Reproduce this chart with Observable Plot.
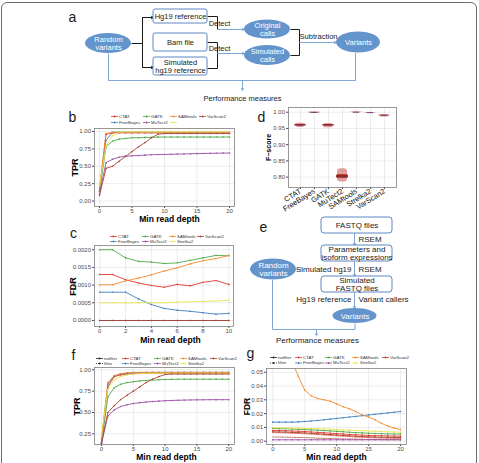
<!DOCTYPE html>
<html>
<head>
<meta charset="utf-8">
<title>Variant caller benchmarking</title>
<script src="https://cdn.jsdelivr.net/npm/d3@7"></script>
<script src="https://cdn.jsdelivr.net/npm/@observablehq/plot@0.6"></script>
<style>
  html, body { margin: 0; padding: 0; background: #ffffff; overflow: hidden; }
  #fig { position: relative; width: 479px; height: 463px; overflow: hidden; background: #fff; }
  #fig .outline { position: absolute; left: 1px; top: 2px; width: 474px; height: 480px; border: 1px solid #6e6e6e; border-radius: 6px; }
  #fig svg { position: absolute; }
</style>
</head>
<body>
<div id="fig"><div class="outline"></div></div>
<script>
const W = 479, H = 463;
const FONT = '"Liberation Sans", Arial, Helvetica, sans-serif';

// ---- data ---------------------------------------------------------------
const tools = ["CTAT", "FreeBayes", "GATK", "MuTect2", "SAMtools", "Strelka2", "VarScan2"];
const toolColors = ["#e23a2e", "#3f7fc0", "#4ea84a", "#9b4ea6", "#f58a2c", "#e9e457", "#a84632"];

const depthTo20 = [0, 1, 2, 3, 4, 5, 6, 7, 8, 9, 10, 11, 12, 13, 14, 15, 16, 17, 18, 19, 20];
const depthTo10 = [0, 1, 2, 3, 4, 5, 6, 7, 8, 9, 10];

// b: TPR by minimum read depth
const bCTAT      = [0.14, 0.96, 0.98, 0.98, 0.98, 0.98, 0.98, 0.98, 0.98, 0.98, 0.98, 0.98, 0.98, 0.98, 0.98, 0.98, 0.98, 0.98, 0.98, 0.98, 0.98];
const bFreeBayes = [0.15, 0.87, 0.99, 0.99, 0.99, 0.99, 0.99, 0.99, 0.99, 0.99, 0.99, 0.99, 0.99, 0.99, 0.99, 0.99, 0.99, 0.99, 0.99, 0.99, 0.99];
const bGATK      = [0.14, 0.78, 0.86, 0.89, 0.90, 0.91, 0.91, 0.915, 0.915, 0.92, 0.92, 0.92, 0.92, 0.92, 0.92, 0.92, 0.92, 0.92, 0.92, 0.92, 0.92];
const bMuTect2   = [0.10, 0.55, 0.60, 0.63, 0.645, 0.65, 0.655, 0.66, 0.665, 0.668, 0.67, 0.672, 0.675, 0.677, 0.68, 0.682, 0.684, 0.686, 0.688, 0.689, 0.69];
const bSAMtools  = [0.20, 0.97, 0.985, 0.99, 0.99, 0.99, 0.99, 0.99, 0.99, 0.99, 0.99, 0.99, 0.99, 0.99, 0.99, 0.99, 0.99, 0.99, 0.99, 0.99, 0.99];
const bStrelka2  = [0.22, 0.79, 0.94, 0.99, 0.995, 0.995, 0.995, 0.995, 0.995, 0.995, 0.995, 0.995, 0.995, 0.995, 0.995, 0.995, 0.995, 0.995, 0.995, 0.995, 0.995];
const bVarScan2  = [0.08, 0.47, 0.50, 0.57, 0.64, 0.71, 0.78, 0.84, 0.91, 0.96, 0.97, 0.97, 0.97, 0.97, 0.97, 0.97, 0.97, 0.97, 0.97, 0.97, 0.97];

// c: FDR by minimum read depth
const cCTAT      = [0.0013, 0.0013, 0.00115, 0.00106, 0.00099, 0.00094, 0.00102, 0.00098, 0.00108, 0.00113, 0.00102];
const cFreeBayes = [0.0008, 0.0008, 0.0008, 0.00061, 0.00045, 0.00034, 0.00029, 0.00026, 0.00022, 0.00018, 0.0002];
const cGATK      = [0.002, 0.002, 0.00177, 0.00167, 0.00165, 0.00161, 0.00163, 0.0017, 0.00177, 0.00184, 0.00183];
const cMuTect2   = [0, 0, 0, 0, 0, 0, 0, 0, 0, 0, 0];
const cSAMtools  = [0.00101, 0.00101, 0.00112, 0.0012, 0.00129, 0.0014, 0.00149, 0.0016, 0.00169, 0.00175, 0.00184];
const cStrelka2  = [0.0005, 0.0005, 0.0005, 0.0005, 0.0005, 0.0005, 0.00052, 0.00053, 0.00054, 0.00055, 0.00057];
const cVarScan2  = [0, 0, 0, 0, 0, 0, 0, 0, 0, 0, 0];

// d: F-score of repeated runs per caller
const dCTAT      = [0.953, 0.956, 0.957, 0.958, 0.959, 0.96, 0.96, 0.961, 0.962, 0.963, 0.964, 0.966];
const dFreeBayes = [0.996, 0.997, 0.998, 0.999, 0.999, 1.0, 1.0, 1.0, 1.0, 0.999, 0.998, 1.0];
const dGATK      = [0.952, 0.955, 0.957, 0.958, 0.959, 0.96, 0.96, 0.961, 0.962, 0.962, 0.963, 0.965];
const dMuTect2   = [0.785, 0.79, 0.793, 0.795, 0.797, 0.799, 0.8, 0.8, 0.801, 0.802, 0.804, 0.806, 0.81, 0.815, 0.82, 0.826];
const dSAMtools  = [0.997, 0.998, 0.999, 1.0, 1.0, 1.0, 1.0, 0.999, 1.0, 0.999, 1.0, 1.0];
const dStrelka2  = [0.996, 0.997, 0.998, 0.999, 0.999, 0.999, 0.998, 0.999, 0.998, 0.999, 0.998, 0.999];
const dVarScan2  = [0.985, 0.987, 0.988, 0.989, 0.99, 0.99, 0.991, 0.991, 0.992, 0.989, 0.993, 0.991];

// f: TPR by minimum read depth, second data set
const fCTAT      = [0.15, 0.80, 0.92, 0.94, 0.95, 0.955, 0.96, 0.96, 0.96, 0.96, 0.96, 0.96, 0.96, 0.96, 0.96, 0.96, 0.96, 0.96, 0.96, 0.96, 0.96];
const fFreeBayes = [0.15, 0.83, 0.93, 0.95, 0.96, 0.965, 0.965, 0.97, 0.97, 0.97, 0.97, 0.97, 0.97, 0.97, 0.97, 0.97, 0.97, 0.97, 0.97, 0.97, 0.97];
const fGATK      = [0.14, 0.68, 0.79, 0.83, 0.85, 0.86, 0.87, 0.875, 0.88, 0.883, 0.886, 0.888, 0.89, 0.89, 0.89, 0.89, 0.89, 0.89, 0.89, 0.89, 0.89];
const fMuTect2   = [0.14, 0.46, 0.53, 0.57, 0.59, 0.605, 0.615, 0.622, 0.628, 0.633, 0.638, 0.641, 0.643, 0.645, 0.647, 0.648, 0.649, 0.65, 0.65, 0.65, 0.65];
const fSAMtools  = [0.20, 0.85, 0.93, 0.955, 0.965, 0.97, 0.97, 0.97, 0.97, 0.97, 0.97, 0.97, 0.97, 0.97, 0.97, 0.97, 0.97, 0.97, 0.97, 0.97, 0.97];
const fStrelka2  = [0.22, 0.77, 0.88, 0.92, 0.94, 0.95, 0.955, 0.958, 0.96, 0.96, 0.96, 0.96, 0.96, 0.96, 0.96, 0.96, 0.96, 0.96, 0.96, 0.96, 0.96];
const fVarScan2  = [0.14, 0.50, 0.58, 0.65, 0.70, 0.75, 0.80, 0.85, 0.89, 0.92, 0.945, 0.95, 0.95, 0.95, 0.95, 0.95, 0.95, 0.95, 0.95, 0.95, 0.95];

// g: FDR by minimum read depth, second data set (nofilter)
const gCTAT      = [0.0078, 0.0077, 0.0076, 0.0074, 0.0072, 0.007, 0.0067, 0.0064, 0.0061, 0.0058, 0.0055, 0.0052, 0.0049, 0.0046, 0.0044, 0.0042, 0.004, 0.0039, 0.0038, 0.0037, 0.0036];
const gFreeBayes = [0.0138, 0.0138, 0.0138, 0.0138, 0.014, 0.0143, 0.0146, 0.015, 0.0155, 0.016, 0.0165, 0.017, 0.0175, 0.018, 0.0185, 0.019, 0.0195, 0.02, 0.0205, 0.021, 0.0215];
const gGATK      = [0.0092, 0.0091, 0.009, 0.0088, 0.0086, 0.0084, 0.0082, 0.008, 0.0077, 0.0074, 0.0071, 0.0068, 0.0065, 0.0062, 0.006, 0.0058, 0.0056, 0.0054, 0.0053, 0.0052, 0.0051];
const gMuTect2   = [0.001, 0.001, 0.001, 0.001, 0.001, 0.001, 0.001, 0.001, 0.001, 0.001, 0.001, 0.001, 0.001, 0.001, 0.001, 0.001, 0.001, 0.001, 0.001, 0.001, 0.001];
const gSAMtools  = [0.12, 0.09, 0.07, 0.058, 0.047, 0.037, 0.033, 0.031, 0.030, 0.029, 0.027, 0.025, 0.0235, 0.0215, 0.019, 0.0175, 0.0155, 0.013, 0.011, 0.0095, 0.0085];
const gStrelka2  = [0.0098, 0.0097, 0.0096, 0.0095, 0.0094, 0.0093, 0.0092, 0.009, 0.0088, 0.0086, 0.0084, 0.0082, 0.008, 0.0078, 0.0076, 0.0074, 0.0072, 0.007, 0.0068, 0.0066, 0.0065];
const gVarScan2  = [0.0068, 0.0067, 0.0066, 0.0064, 0.0062, 0.006, 0.0057, 0.0054, 0.0051, 0.0048, 0.0045, 0.0042, 0.0039, 0.0036, 0.0034, 0.0032, 0.003, 0.0029, 0.0028, 0.0027, 0.0026];
// g: filtered calls
const gCTATFilter     = [0.0062, 0.0061, 0.006, 0.0058, 0.0056, 0.0054, 0.0051, 0.0048, 0.0045, 0.0042, 0.0039, 0.0036, 0.0033, 0.003, 0.0028, 0.0026, 0.0024, 0.0023, 0.0022, 0.0021, 0.002];
const gVarScan2Filter = [0.003, 0.003, 0.0029, 0.0028, 0.0027, 0.0026, 0.0024, 0.0022, 0.002, 0.0019, 0.0018, 0.0017, 0.0016, 0.0015, 0.0014, 0.0013, 0.0012, 0.0012, 0.0011, 0.0011, 0.001];

// axis ticks
const tprTicksB = [0, 0.25, 0.5, 0.75, 1];
const tprTicksF = [0.25, 0.5, 0.75, 1];
const fdrTicksC = [0, 0.0005, 0.001, 0.0015, 0.002];
const fdrTicksG = [0, 0.01, 0.02, 0.03, 0.04, 0.05];
const fTicksD = [0.8, 0.85, 0.9, 0.95, 1];
const depthTicks20 = [0, 5, 10, 15, 20];
const depthTicks10 = [0, 2, 4, 6, 8, 10];

// ---- helpers ------------------------------------------------------------
const fig = document.getElementById("fig");
function place(el, left, top) {
  el.style.left = left + "px";
  el.style.top = top + "px";
  fig.appendChild(el);
}
function longRows(depths, series, names = tools) {
  return series.flatMap((vals, i) => vals.map((v, j) => ({tool: names[i], depth: depths[j], value: v})));
}
const axisStyle = {background: "transparent", fontFamily: FONT, fontSize: "6px", color: "#4d4d4d", overflow: "visible"};

function lineChart({width, height, margins, xDomain, xTicks, yDomain, yTicks, yFormat, solid, dotted = []}) {
  const [t, r, b, l] = margins;
  return Plot.plot({
    width, height, marginTop: t, marginRight: r, marginBottom: b, marginLeft: l,
    style: axisStyle,
    x: {domain: xDomain, ticks: xTicks, tickSize: 2, tickPadding: 0.5, label: null, grid: true},
    y: {domain: yDomain, ticks: yTicks, tickSize: 2, tickPadding: 1.5, tickFormat: yFormat, label: null, grid: true},
    color: {domain: tools, range: toolColors},
    marks: [
      Plot.line(dotted, {x: "depth", y: "value", z: "tool", stroke: "tool", strokeWidth: 0.8, strokeDasharray: "1.2,1.2", clip: true}),
      Plot.line(solid, {x: "depth", y: "value", z: "tool", stroke: "tool", strokeWidth: 0.9, clip: true}),
      Plot.dot(solid, {x: "depth", y: "value", fill: "tool", r: 0.8, clip: true}),
      Plot.frame({stroke: "#7f7f7f", strokeWidth: 0.8})
    ]
  });
}

// ---- annotation layer: flowcharts, panel letters, axis titles, legends ----
const blue = "#80a6d6", ovalFill = "#6494cc", boxStroke = "#5f88c4", ink = "#1a1a1a";

const flowABoxes = [
  {text: "Hg19 reference", x1: 153, x2: 207, y1: 9, y2: 23},
  {text: "Bam file", x1: 153, x2: 207, y1: 33, y2: 51},
  {text: "Simulated\nhg19 reference", x1: 153, x2: 207, y1: 57, y2: 75}
];
const flowAOvals = [
  {text: "Random\nvariants", cx: 108, cy: 43, rx: 23, ry: 10},
  {text: "Original\ncalls", cx: 267, cy: 29, rx: 23, ry: 9.5},
  {text: "Simulated\ncalls", cx: 267, cy: 55, rx: 23, ry: 10},
  {text: "Variants", cx: 358, cy: 42, rx: 22, ry: 10.5}
];
const flowABlack = [[131, 43, 142, 43], [142, 17, 142, 67], [207, 16, 217, 16], [217, 16, 217, 29],
  [207, 42, 217, 42], [217, 42, 217, 68], [207, 68, 217, 68], [290, 29, 299, 29], [299, 29, 299, 55], [290, 55, 299, 55]];
const flowABlackArrows = [[142, 17, 153, 17], [142, 67, 153, 67]];
const flowABlueArrows = [[217, 29, 244, 29], [217, 53, 244, 53], [299, 42, 336, 42], [242, 80, 242, 90]];
const flowABlue = [[108, 53, 108, 80], [108, 80, 355, 80], [355, 80, 355, 52.5]];
const flowALabels = [
  {text: "Detect", x: 219, y: 23.5, anchor: "start"},
  {text: "Detect", x: 219, y: 48, anchor: "start"},
  {text: "Subtraction", x: 318, y: 36.5, anchor: "middle"},
  {text: "Performance measures", x: 242, y: 98, anchor: "middle"}
];

const flowEBoxes = [
  {text: "FASTQ files", x1: 321, x2: 392, y1: 217, y2: 233},
  {text: "Parameters and\nisoform expressions", x1: 321, x2: 392, y1: 245, y2: 261},
  {text: "Simulated\nFASTQ files", x1: 321, x2: 392, y1: 276, y2: 292}
];
const flowEOvals = [
  {text: "Random\nvariants", cx: 273, cy: 269, rx: 23, ry: 10.5},
  {text: "Variants", cx: 354.5, cy: 315.5, rx: 22, ry: 7.5}
];
const flowEBlueArrows = [[354, 233, 354, 245], [354, 261, 354, 276], [354, 292, 354, 308], [316, 329, 316, 335]];
const flowEBlue = [[296, 269, 300, 269], [272, 279.5, 272, 329], [272, 329, 354.5, 329], [354.5, 329, 354.5, 323]];
const flowELabels = [
  {text: "RSEM", x: 358, y: 239, anchor: "start"},
  {text: "Simulated hg19", x: 351, y: 269, anchor: "end"},
  {text: "RSEM", x: 358, y: 269, anchor: "start"},
  {text: "Hg19 reference", x: 351, y: 299, anchor: "end"},
  {text: "Variant callers", x: 358, y: 299, anchor: "start"},
  {text: "Performance measures", x: 317, y: 339.5, anchor: "middle"}
];

const panelLetters = [
  {text: "a", x: 72, y: 17}, {text: "b", x: 72, y: 117}, {text: "c", x: 73, y: 233},
  {text: "d", x: 261, y: 117}, {text: "e", x: 263, y: 227}, {text: "f", x: 73, y: 355}, {text: "g", x: 250, y: 353}
];
const axisTitles = [
  {text: "TPR", x: 75, y: 167, rotate: -90, size: 9},
  {text: "Min read depth", x: 169, y: 219, rotate: 0, size: 8.5},
  {text: "FDR", x: 73, y: 286, rotate: -90, size: 9},
  {text: "Min read depth", x: 170, y: 339.5, rotate: 0, size: 8.5},
  {text: "F\u2212score", x: 268, y: 147, rotate: -90, size: 7},
  {text: "TPR", x: 77, y: 406, rotate: -90, size: 9},
  {text: "Min read depth", x: 166, y: 456.5, rotate: 0, size: 8.5},
  {text: "FDR", x: 247, y: 406, rotate: -90, size: 8.5},
  {text: "Min read depth", x: 336, y: 456.5, rotate: 0, size: 8.5}
];

// legends: tools laid out column by column in two rows
function toolKeys(colX, rowY, hideLabel = []) {
  return tools.map((t, i) => ({
    x: colX[Math.floor(i / 2)], y: rowY[i % 2], color: toolColors[i],
    label: hideLabel.includes(t) ? "" : t
  }));
}
function filterKeys(x, rowY) {
  return [{x, y: rowY[0], label: "nofilter", dashed: false}, {x, y: rowY[1], label: "filter", dashed: true}];
}
const keys = [
  ...toolKeys([114, 146, 173, 202], [116, 122], ["Strelka2"]),
  ...toolKeys([113, 145, 172, 200], [236, 241]),
  ...toolKeys([125, 157, 183, 213], [358, 363]),
  ...toolKeys([298, 328, 355, 385], [357, 362.5])
];
const lineKeys = [...filterKeys(99, [358, 363]), ...filterKeys(273, [357, 362.5])];

const seg = () => ({x1: (d) => d[0], y1: (d) => d[1], x2: (d) => d[2], y2: (d) => d[3]});
const ovalRect = {x1: (d) => d.cx - d.rx, x2: (d) => d.cx + d.rx, y1: (d) => d.cy - d.ry, y2: (d) => d.cy + d.ry, rx: 100, ry: 100};

const overlay = Plot.plot({
  width: W, height: H, margin: 0,
  style: {background: "transparent", fontFamily: FONT, overflow: "visible"},
  x: {domain: [0, W], range: [0, W], axis: null},
  y: {domain: [0, H], range: [0, H], axis: null},
  marks: [
    // flowchart a
    Plot.link(flowABlack, {...seg(), stroke: ink, strokeWidth: 1}),
    Plot.arrow(flowABlackArrows, {...seg(), stroke: ink, strokeWidth: 1, headLength: 3.5}),
    Plot.link(flowABlue, {...seg(), stroke: blue, strokeWidth: 1}),
    Plot.arrow(flowABlueArrows, {...seg(), stroke: blue, strokeWidth: 1, headLength: 3.5}),
    Plot.rect(flowABoxes, {x1: "x1", x2: "x2", y1: "y1", y2: "y2", fill: "white", stroke: boxStroke, strokeWidth: 1, rx: 2}),
    Plot.text(flowABoxes, {x: (d) => (d.x1 + d.x2) / 2, y: (d) => (d.y1 + d.y2) / 2, text: "text", fontSize: 7.5, fill: ink, lineHeight: 1.1}),
    Plot.rect(flowAOvals, {...ovalRect, fill: ovalFill}),
    Plot.text(flowAOvals, {x: "cx", y: "cy", text: "text", fontSize: 7.5, fill: "white", lineHeight: 1.05}),
    Plot.text(flowALabels, {x: "x", y: "y", text: "text", textAnchor: (d) => d.anchor, fontSize: 7.5, fill: ink}),
    // flowchart e
    Plot.link(flowEBlue, {...seg(), stroke: blue, strokeWidth: 1}),
    Plot.arrow(flowEBlueArrows, {...seg(), stroke: blue, strokeWidth: 1, headLength: 3.5}),
    Plot.rect(flowEBoxes, {x1: "x1", x2: "x2", y1: "y1", y2: "y2", fill: "white", stroke: boxStroke, strokeWidth: 1, rx: 3}),
    Plot.text(flowEBoxes, {x: (d) => (d.x1 + d.x2) / 2, y: (d) => (d.y1 + d.y2) / 2, text: "text", fontSize: 8, fill: ink, lineHeight: 1.0}),
    Plot.rect(flowEOvals, {...ovalRect, fill: ovalFill}),
    Plot.text(flowEOvals, {x: "cx", y: "cy", text: "text", fontSize: 8, fill: "white", lineHeight: 1.05}),
    Plot.text(flowELabels.filter((d) => d.anchor === "start"), {x: "x", y: "y", text: "text", textAnchor: "start", fontSize: 8, fill: ink}),
    Plot.text(flowELabels.filter((d) => d.anchor === "end"), {x: "x", y: "y", text: "text", textAnchor: "end", fontSize: 8, fill: ink}),
    Plot.text(flowELabels.filter((d) => d.anchor === "middle"), {x: "x", y: "y", text: "text", fontSize: 8, fill: ink}),
    // panel letters and axis titles
    Plot.text(panelLetters, {x: "x", y: "y", text: "text", fontSize: 14, fill: ink}),
    Plot.text(axisTitles.filter((d) => d.rotate === 0), {x: "x", y: "y", text: "text", fontSize: (d) => d.size, fontWeight: "bold", fill: "#000"}),
    Plot.text(axisTitles.filter((d) => d.rotate !== 0), {x: "x", y: "y", text: "text", fontSize: (d) => d.size, fontWeight: "bold", fill: "#000", rotate: -90}),
    // legends
    Plot.link(keys, {x1: (d) => d.x - 3.5, x2: (d) => d.x + 3.5, y1: "y", y2: "y", stroke: "color", strokeWidth: 0.8}),
    Plot.dot(keys, {x: "x", y: "y", fill: "color", r: 0.9}),
    Plot.text(keys, {x: (d) => d.x + 4.5, y: "y", text: "label", textAnchor: "start", fontSize: 4.4, fill: "#333"}),
    Plot.link(lineKeys.filter((d) => !d.dashed), {x1: (d) => d.x - 3.5, x2: (d) => d.x + 3.5, y1: "y", y2: "y", stroke: "#222", strokeWidth: 0.8}),
    Plot.link(lineKeys.filter((d) => d.dashed), {x1: (d) => d.x - 3.5, x2: (d) => d.x + 3.5, y1: "y", y2: "y", stroke: "#222", strokeWidth: 0.8, strokeDasharray: "1,1"}),
    Plot.dot(lineKeys, {x: "x", y: "y", fill: "#222", r: 0.9}),
    Plot.text(lineKeys, {x: (d) => d.x + 4.5, y: "y", text: "label", textAnchor: "start", fontSize: 4.4, fill: "#333"})
  ]
});
place(overlay, 0, 0);

// ---- b: TPR ----------------------------------------------------------------
place(lineChart({
  width: 180, height: 100, margins: [4, 6, 18, 34],
  xDomain: [-0.77, 20.77], xTicks: depthTicks20,
  yDomain: [-0.079, 1.043], yTicks: tprTicksB, yFormat: ".2f",
  solid: longRows(depthTo20, [bCTAT, bFreeBayes, bGATK, bMuTect2, bSAMtools, bStrelka2, bVarScan2])
}), 60, 124);

// ---- c: FDR ----------------------------------------------------------------
place(lineChart({
  width: 200, height: 102, margins: [4, 7, 17, 54],
  xDomain: [-0.41, 10.36], xTicks: depthTicks10,
  yDomain: [-0.00017, 0.00212], yTicks: fdrTicksC, yFormat: ".4f",
  solid: longRows(depthTo10, [cCTAT, cFreeBayes, cGATK, cMuTect2, cSAMtools, cStrelka2, cVarScan2])
}), 40, 241);

// ---- f: TPR, second data set --------------------------------------------
place(lineChart({
  width: 200, height: 99, margins: [3, 6, 19, 54],
  xDomain: [-1.1, 20.9], xTicks: depthTicks20,
  yDomain: [0.125, 1.027], yTicks: tprTicksF, yFormat: ".2f",
  solid: longRows(depthTo20, [fCTAT, fFreeBayes, fGATK, fMuTect2, fSAMtools, fStrelka2, fVarScan2])
}), 40, 364);

// ---- g: FDR, second data set --------------------------------------------
place(lineChart({
  width: 185, height: 99, margins: [4, 9, 19, 36],
  xDomain: [-0.99, 20.94], xTicks: depthTicks20,
  yDomain: [-0.0024, 0.0527], yTicks: fdrTicksG, yFormat: ".2f",
  solid: longRows(depthTo20, [gCTAT, gFreeBayes, gGATK, gMuTect2, gSAMtools, gStrelka2, gVarScan2]),
  dotted: longRows(depthTo20, [gCTATFilter, gVarScan2Filter], ["CTAT", "VarScan2"])
}), 230, 364);

// ---- d: F-score per caller ---------------------------------------------
const fscoreRows = [dCTAT, dFreeBayes, dGATK, dMuTect2, dSAMtools, dStrelka2, dVarScan2]
  .flatMap((vals, i) => vals.map((v) => ({tool: tools[i], score: v})));
const dChart = Plot.plot({
  width: 165, height: 110, marginTop: 4, marginRight: 9, marginBottom: 26, marginLeft: 48,
  style: axisStyle,
  x: {type: "band", domain: tools, range: [48.4, 155.6], padding: 0.15, tickRotate: -32, tickSize: 2, tickPadding: 1, label: null, grid: true},
  y: {domain: [0.768, 1.0145], ticks: fTicksD, tickFormat: ".2f", tickSize: 2, tickPadding: 1.5, label: null, grid: true},
  marks: [
    // spread of the runs, interquartile core and median
    Plot.barY(fscoreRows, Plot.groupX({y1: "min", y2: "max"}, {x: "tool", y: "score", fill: "#c8403a", fillOpacity: 0.5, rx: 3, insetLeft: 1, insetRight: 1})),
    Plot.barY(fscoreRows, Plot.groupX({y1: "p25", y2: "p75"}, {x: "tool", y: "score", fill: "#a3221c", rx: 1.5})),
    Plot.tickY(fscoreRows, Plot.groupX({y: "median"}, {x: "tool", y: "score", stroke: "#5a3b86", strokeWidth: 0.8, insetLeft: 3, insetRight: 3})),
    Plot.frame({stroke: "#7f7f7f", strokeWidth: 0.8})
  ]
});
d3.select(dChart).selectAll('g[aria-label^="x-axis"] text').attr("font-size", 7.5).attr("fill", "#111");
place(dChart, 240, 103);
</script>
</body>
</html>
